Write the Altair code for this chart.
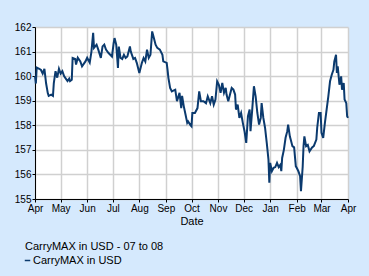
import altair as alt
import pandas as pd

# --- data (days since 2007-04-01, value) ---
days = [0, 1, 2, 5, 7, 9, 11, 13, 15, 16, 19, 21, 22, 24, 26, 28, 30, 32, 34, 36,
        38, 40, 41, 43, 44, 47, 48, 50, 53, 55, 57, 59, 61, 64, 66, 68, 69, 72, 74, 77,
        79, 81, 83, 86, 90, 92, 93, 95, 97, 98, 100, 102, 104, 106, 108, 111, 112, 115, 117, 119,
        122, 125, 127, 129, 131, 133, 135, 137, 139, 141, 143, 146, 149, 150, 154, 155, 156, 158, 160, 164,
        166, 169, 171, 172, 174, 176, 178, 179, 182, 183, 184, 187, 190, 192, 194, 197, 200, 202, 205, 207,
        209, 211, 213, 215, 217, 219, 221, 223, 224, 226, 228, 230, 232, 234, 235, 237, 239, 241, 243, 245,
        247, 249, 251, 252, 254, 256, 258, 260, 262, 264, 265, 267, 269, 271, 273, 274, 275, 277, 279, 281,
        283, 285, 287, 288, 289, 291, 293, 295, 296, 298, 299, 301, 303, 305, 306, 308, 310, 311, 313, 314,
        315, 317, 319, 321, 324, 326, 329, 330, 332, 334, 335, 337, 339, 341, 343, 345, 347, 349, 350, 352,
        353, 354, 356, 358, 359, 361, 362, 364, 365, 366]
values = [160.0, 159.7, 160.35, 160.3, 160.25, 160.1, 160.3, 159.7, 159.3, 159.2, 159.25, 159.2, 159.72, 160.2, 159.94, 160.3, 160.1, 160.2, 160.0, 159.9,
          159.8, 159.9, 159.8, 159.85, 160.74, 160.7, 160.47, 160.75, 160.6, 160.4, 160.5, 160.6, 160.75, 160.55, 161.0, 161.76, 161.15, 161.28, 161.08, 160.74,
          161.21, 161.28, 161.08, 160.94, 160.8, 161.35, 161.55, 161.28, 160.33, 161.2, 160.74, 160.7, 160.87, 160.74, 160.8, 161.21, 161.0, 160.7, 160.74, 160.54,
          160.13, 160.54, 160.74, 160.6, 161.08, 160.74, 160.87, 161.82, 161.55, 161.28, 161.15, 161.08, 160.87, 160.6, 160.54, 160.26, 159.93, 159.52, 159.38, 159.45,
          158.98, 159.32, 158.7, 159.2, 158.77, 158.44, 158.1, 158.16, 158.0, 157.96, 158.5, 158.5, 158.7, 159.38, 158.98, 158.98, 158.9, 159.18, 158.9, 159.18,
          158.84, 159.05, 159.79, 159.65, 159.32, 159.72, 159.32, 159.52, 159.25, 158.98, 159.25, 159.52, 159.45, 159.25, 158.64, 158.84, 158.3, 158.5, 158.1, 157.76,
          157.28, 158.37, 158.64, 157.76, 158.64, 159.59, 159.18, 158.5, 158.03, 158.3, 158.9, 158.3, 157.9, 157.28, 156.6, 155.66, 156.47, 156.13, 156.27, 156.3,
          156.47, 156.3, 156.4, 156.13, 156.67, 157.0, 157.49, 157.76, 158.03, 157.55, 157.42, 157.15, 157.1, 156.33, 156.27, 156.13, 155.93, 155.32, 156.3, 157.15,
          157.55, 157.15, 157.2, 156.94, 157.1, 157.15, 157.42, 157.9, 158.5, 158.5, 157.69, 157.49, 158.1, 158.64, 159.18, 159.79, 160.06, 160.26, 160.6, 160.87,
          160.13, 160.4, 159.65, 159.99, 159.45, 159.72, 159.05, 158.9, 158.37, 158.3]

series_name = "CarryMAX in USD"
legend_title = "CarryMAX in USD - 07 to 08"
x_title = "Date"
month_ticks = [(2007, 4), (2007, 5), (2007, 6), (2007, 7), (2007, 8), (2007, 9), (2007, 10),
               (2007, 11), (2007, 12), (2008, 1), (2008, 2), (2008, 3), (2008, 4)]
y_ticks = [155, 155.5, 156, 156.5, 157, 157.5, 158, 158.5, 159, 159.5, 160, 160.5, 161, 161.5, 162]

df = pd.DataFrame({
    "date": pd.Timestamp("2007-04-01") + pd.to_timedelta(days, unit="D"),
    "value": values,
    "series": series_name,
})

FONT = "Liberation Sans"
LINE = "#0b3a6e"

chart = alt.Chart(df).mark_line(strokeWidth=2, color=LINE).encode(
    x=alt.X(
        "date:T",
        title=x_title,
        scale=alt.Scale(
            domain=[alt.DateTime(year=2007, month=4, date=1), alt.DateTime(year=2008, month=4, date=1)],
            nice=False,
        ),
        axis=alt.Axis(
            values=[alt.DateTime(year=y, month=m, date=1) for y, m in month_ticks],
            format="%b",
            labelFlush=False,
            labelOverlap=False,
            labelPadding=1,
            tickSize=3,
            titlePadding=2,
        ),
    ),
    y=alt.Y(
        "value:Q",
        title=None,
        scale=alt.Scale(domain=[155, 162], nice=False, zero=False),
        axis=alt.Axis(
            values=y_ticks,
            format="d",
            labelExpr="datum.value % 1 == 0 ? format(datum.value, 'd') : ''",
            labelOverlap=False,
            gridOpacity={"condition": {"test": "datum.value % 1 != 0", "value": 0}, "value": 1},
            tickSize=3,
            labelPadding=1,
        ),
    ),
    color=alt.Color(
        "series:N",
        scale=alt.Scale(range=[LINE]),
        legend=alt.Legend(
            title=legend_title,
            orient="none",
            legendX=-10,
            legendY=214,
            symbolType="stroke",
            symbolSize=30,
            symbolStrokeWidth=1.5,
            symbolOffset=-3,
            labelOffset=0,
            titlePadding=3,
            padding=0,
        ),
    ),
).properties(
    width=313,
    height=172,
    background="#d5e9fd",
    padding={"left": 35, "top": 27, "right": 21, "bottom": 77},
    autosize=alt.AutoSizeParams(type="none"),
).configure_view(
    fill="white", stroke=None
).configure_axis(
    labelFont=FONT, labelFontSize=10, labelColor="black",
    titleFont=FONT, titleFontSize=11, titleFontWeight="normal", titleColor="black",
    domainColor="black", domainWidth=1, tickColor="black",
    gridColor="#d0d0d0", gridWidth=1.5,
).configure_legend(
    labelFont=FONT, labelFontSize=11, labelColor="black",
    titleFont=FONT, titleFontSize=11, titleFontWeight="normal", titleColor="black",
)

chart.save("out.html", embed_options={"renderer": "svg", "actions": False})
